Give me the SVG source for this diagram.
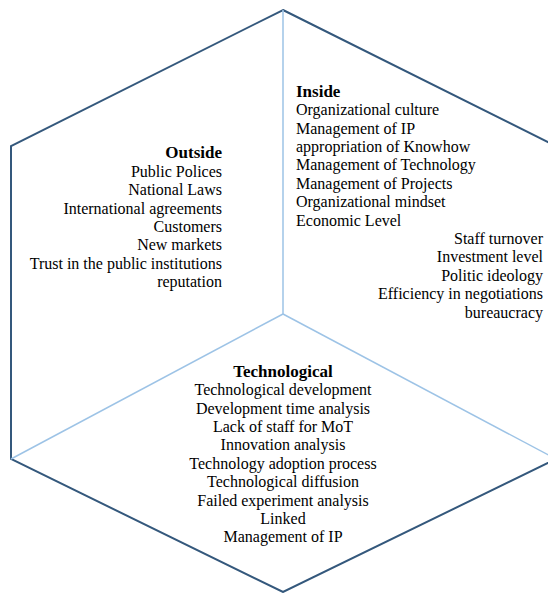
<svg xmlns="http://www.w3.org/2000/svg" width="548" height="593" viewBox="0 0 548 593">
<style>
.outer{fill:none;stroke:#34587c;stroke-width:2;stroke-linejoin:miter}
.inner{fill:none;stroke:#9dc3e6;stroke-width:1.5}
text{font-family:"Liberation Serif","Times New Roman",serif;font-size:16px;fill:#000}
.h{font-weight:bold;font-size:17px}
.r{text-anchor:end}
.m{text-anchor:middle}
</style>
<rect width="548" height="593" fill="#fff"/>
<g id="connectors">
<polygon class="outer" points="283,10 556,146 556,459 283,592 11,459 11,146"/>
<line class="inner" x1="283" y1="10" x2="283" y2="314"/>
<line class="inner" x1="283" y1="314" x2="11" y2="459"/>
<line class="inner" x1="283" y1="314" x2="556" y2="459"/>
</g>
<g id="outside">
<text class="h r" x="222" y="158.3">Outside</text>
<text class="r" x="222" y="176.7">Public Polices</text>
<text class="r" x="222" y="195.1">National Laws</text>
<text class="r" x="222" y="213.5">International agreements</text>
<text class="r" x="222" y="231.9">Customers</text>
<text class="r" x="222" y="250.3">New markets</text>
<text class="r" x="222" y="268.7">Trust in the public institutions</text>
<text class="r" x="222" y="287.1">reputation</text>
</g>
<g id="inside">
<text class="h" x="296" y="96.7">Inside</text>
<text x="296" y="115.1">Organizational culture</text>
<text x="296" y="133.5">Management of IP</text>
<text x="296" y="151.9">appropriation of Knowhow</text>
<text x="296" y="170.3">Management of Technology</text>
<text x="296" y="188.7">Management of Projects</text>
<text x="296" y="207.1">Organizational mindset</text>
<text x="296" y="225.5">Economic Level</text>
<text class="r" x="543" y="243.9">Staff turnover</text>
<text class="r" x="543" y="262.3">Investment level</text>
<text class="r" x="543" y="280.7">Politic ideology</text>
<text class="r" x="543" y="299.1">Efficiency in negotiations</text>
<text class="r" x="543" y="317.5">bureaucracy</text>
</g>
<g id="technological">
<text class="h m" x="283" y="376.7">Technological</text>
<text class="m" x="283" y="395.1">Technological development</text>
<text class="m" x="283" y="413.5">Development time analysis</text>
<text class="m" x="283" y="431.9">Lack of staff for MoT</text>
<text class="m" x="283" y="450.3">Innovation analysis</text>
<text class="m" x="283" y="468.7">Technology adoption process</text>
<text class="m" x="283" y="487.1">Technological diffusion</text>
<text class="m" x="283" y="505.5">Failed experiment analysis</text>
<text class="m" x="283" y="523.9">Linked</text>
<text class="m" x="283" y="542.3">Management of IP</text>
</g>
</svg>
